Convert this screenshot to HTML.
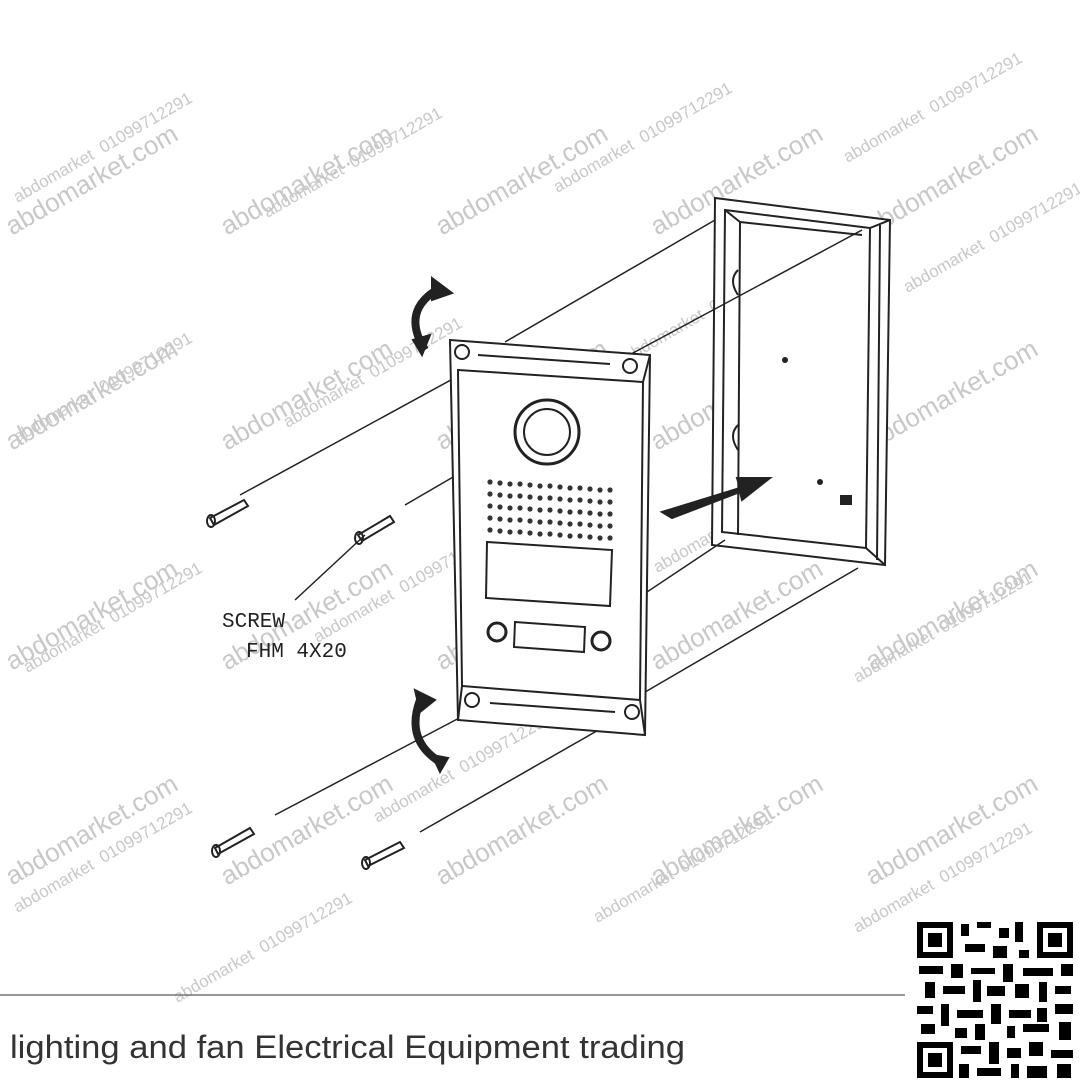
<!DOCTYPE html>
<html><head><meta charset="utf-8"><style>
html,body{margin:0;padding:0;background:#fff;}
body{width:1080px;height:1085px;position:relative;overflow:hidden;font-family:"Liberation Sans",sans-serif;}
.wm{position:absolute;color:#c8c8c8;font-size:26px;transform:rotate(-30deg);transform-origin:left top;white-space:nowrap;}
.wm2{position:absolute;color:#c8c8c8;font-size:17px;transform:rotate(-30deg);transform-origin:left top;white-space:nowrap;}
</style></head><body>
<div class="wm" style="left:215px;top:215px">abdomarket.com</div>
<div class="wm" style="left:430px;top:215px">abdomarket.com</div>
<div class="wm" style="left:645px;top:215px">abdomarket.com</div>
<div class="wm" style="left:860px;top:215px">abdomarket.com</div>
<div class="wm" style="left:0px;top:215px">abdomarket.com</div>
<div class="wm" style="left:215px;top:430px">abdomarket.com</div>
<div class="wm" style="left:430px;top:430px">abdomarket.com</div>
<div class="wm" style="left:645px;top:430px">abdomarket.com</div>
<div class="wm" style="left:860px;top:430px">abdomarket.com</div>
<div class="wm" style="left:0px;top:430px">abdomarket.com</div>
<div class="wm" style="left:0px;top:650px">abdomarket.com</div>
<div class="wm" style="left:215px;top:650px">abdomarket.com</div>
<div class="wm" style="left:430px;top:650px">abdomarket.com</div>
<div class="wm" style="left:645px;top:650px">abdomarket.com</div>
<div class="wm" style="left:860px;top:650px">abdomarket.com</div>
<div class="wm" style="left:0px;top:865px">abdomarket.com</div>
<div class="wm" style="left:215px;top:865px">abdomarket.com</div>
<div class="wm" style="left:430px;top:865px">abdomarket.com</div>
<div class="wm" style="left:645px;top:865px">abdomarket.com</div>
<div class="wm" style="left:860px;top:865px">abdomarket.com</div>
<div class="wm2" style="left:260px;top:205px">abdomarket&nbsp;&nbsp;01099712291</div>
<div class="wm2" style="left:550px;top:180px">abdomarket&nbsp;&nbsp;01099712291</div>
<div class="wm2" style="left:840px;top:150px">abdomarket&nbsp;&nbsp;01099712291</div>
<div class="wm2" style="left:10px;top:190px">abdomarket&nbsp;&nbsp;01099712291</div>
<div class="wm2" style="left:280px;top:415px">abdomarket&nbsp;&nbsp;01099712291</div>
<div class="wm2" style="left:620px;top:350px">abdomarket&nbsp;&nbsp;01099712291</div>
<div class="wm2" style="left:900px;top:280px">abdomarket&nbsp;&nbsp;01099712291</div>
<div class="wm2" style="left:10px;top:430px">abdomarket&nbsp;&nbsp;01099712291</div>
<div class="wm2" style="left:20px;top:660px">abdomarket&nbsp;&nbsp;01099712291</div>
<div class="wm2" style="left:310px;top:630px">abdomarket&nbsp;&nbsp;01099712291</div>
<div class="wm2" style="left:650px;top:560px">abdomarket&nbsp;&nbsp;01099712291</div>
<div class="wm2" style="left:850px;top:670px">abdomarket&nbsp;&nbsp;01099712291</div>
<div class="wm2" style="left:370px;top:810px">abdomarket&nbsp;&nbsp;01099712291</div>
<div class="wm2" style="left:590px;top:910px">abdomarket&nbsp;&nbsp;01099712291</div>
<div class="wm2" style="left:850px;top:920px">abdomarket&nbsp;&nbsp;01099712291</div>
<div class="wm2" style="left:10px;top:900px">abdomarket&nbsp;&nbsp;01099712291</div>
<div class="wm2" style="left:170px;top:990px">abdomarket&nbsp;&nbsp;01099712291</div>

<svg width="1080" height="1085" style="position:absolute;left:0;top:0" xmlns="http://www.w3.org/2000/svg">
<g stroke="#222" stroke-width="2" fill="none">
<polygon points="715,198 890,220 885,565 712,545" fill="#fff"/>
<polygon points="725,210 870,228 866,548 722,532"/>
<line x1="870" y1="228" x2="890" y2="220"/>
<line x1="866" y1="548" x2="885" y2="565"/>
<line x1="880" y1="225" x2="877" y2="560"/>
<line x1="725" y1="210" x2="740" y2="222"/><line x1="740" y1="222" x2="738" y2="535"/>
<line x1="740" y1="222" x2="862" y2="235"/>
<path d="M738,270 q-10,10 0,25"/><path d="M738,425 q-10,10 0,25"/>
<line x1="505" y1="342" x2="715" y2="220" stroke-width="1.5"/>
<line x1="620" y1="360" x2="862" y2="230" stroke-width="1.5"/>
<line x1="640" y1="695" x2="858" y2="568" stroke-width="1.5"/>
<line x1="500" y1="690" x2="725" y2="540" stroke-width="1.5"/>
<line x1="240" y1="495" x2="460" y2="375" stroke-width="1.5"/>
<line x1="405" y1="505" x2="620" y2="380" stroke-width="1.5"/>
<line x1="275" y1="815" x2="465" y2="715" stroke-width="1.5"/>
<line x1="420" y1="832" x2="630" y2="712" stroke-width="1.5"/>
<line x1="295" y1="600" x2="365" y2="535" stroke-width="1.5"/>
<polygon points="450,340 650,355 645,735 458,720" fill="#fff"/>
<polygon points="458,370 643,382 640,700 462,686"/>
<line x1="650" y1="355" x2="643" y2="382"/>
<line x1="645" y1="735" x2="640" y2="700"/>
<line x1="458" y1="720" x2="462" y2="686"/>
<circle cx="462" cy="352" r="7"/><circle cx="630" cy="366" r="7"/>
<circle cx="472" cy="700" r="7"/><circle cx="632" cy="712" r="7"/>
<line x1="478" y1="355" x2="610" y2="364"/>
<line x1="490" y1="703" x2="615" y2="712"/>
<circle cx="547" cy="432" r="32" stroke-width="3"/>
<circle cx="547" cy="432" r="23"/>
<polygon points="487,542 612,550 610,606 486,598"/>
<circle cx="497" cy="632" r="9" stroke-width="3"/>
<circle cx="601" cy="641" r="9" stroke-width="3"/>
<polygon points="515,622 585,627 584,652 514,647"/>
<polygon points="662,512 740,488 737,478 770,478 742,500 740,492 672,518" fill="#222"/>
<path d="M425,350 q-25,-40 15,-62" stroke-width="8"/>
<polygon points="432,278 452,293 432,300" fill="#222"/>
<polygon points="413,340 430,335 422,355" fill="#222"/>
<path d="M420,700 q-15,40 20,62" stroke-width="8"/>
<polygon points="415,690 435,700 420,712" fill="#222"/>
<polygon points="432,755 448,758 440,772" fill="#222"/>
<g stroke-width="2">
<polygon points="210,518 244,500 248,506 214,525"/><ellipse cx="211" cy="521" rx="4" ry="6"/>
<polygon points="358,535 390,516 394,522 362,541"/><ellipse cx="359" cy="538" rx="4" ry="6"/>
<polygon points="215,848 250,828 254,834 218,854"/><ellipse cx="216" cy="851" rx="4" ry="6"/>
<polygon points="365,860 400,842 404,848 368,866"/><ellipse cx="366" cy="863" rx="4" ry="6"/>
</g>
</g>
<g fill="#222">
<circle cx="785" cy="360" r="3"/><circle cx="820" cy="482" r="3"/><rect x="840" y="495" width="12" height="10"/>
</g>
<text x="222" y="627" font-family="Liberation Mono,monospace" font-size="21" fill="#222">SCREW</text>
<text x="246" y="657" font-family="Liberation Mono,monospace" font-size="21" fill="#222">FHM 4X20</text>
<g fill="#333">
<circle cx="490" cy="482" r="2.6"/><circle cx="500" cy="483" r="2.6"/><circle cx="510" cy="484" r="2.6"/><circle cx="520" cy="484" r="2.6"/><circle cx="530" cy="485" r="2.6"/><circle cx="540" cy="486" r="2.6"/><circle cx="550" cy="486" r="2.6"/><circle cx="560" cy="487" r="2.6"/><circle cx="570" cy="488" r="2.6"/><circle cx="580" cy="488" r="2.6"/><circle cx="590" cy="489" r="2.6"/><circle cx="600" cy="490" r="2.6"/><circle cx="610" cy="490" r="2.6"/>
<circle cx="490" cy="494" r="2.6"/><circle cx="500" cy="495" r="2.6"/><circle cx="510" cy="496" r="2.6"/><circle cx="520" cy="496" r="2.6"/><circle cx="530" cy="497" r="2.6"/><circle cx="540" cy="498" r="2.6"/><circle cx="550" cy="498" r="2.6"/><circle cx="560" cy="499" r="2.6"/><circle cx="570" cy="500" r="2.6"/><circle cx="580" cy="500" r="2.6"/><circle cx="590" cy="501" r="2.6"/><circle cx="600" cy="502" r="2.6"/><circle cx="610" cy="502" r="2.6"/>
<circle cx="490" cy="506" r="2.6"/><circle cx="500" cy="507" r="2.6"/><circle cx="510" cy="508" r="2.6"/><circle cx="520" cy="508" r="2.6"/><circle cx="530" cy="509" r="2.6"/><circle cx="540" cy="510" r="2.6"/><circle cx="550" cy="510" r="2.6"/><circle cx="560" cy="511" r="2.6"/><circle cx="570" cy="512" r="2.6"/><circle cx="580" cy="512" r="2.6"/><circle cx="590" cy="513" r="2.6"/><circle cx="600" cy="514" r="2.6"/><circle cx="610" cy="514" r="2.6"/>
<circle cx="490" cy="518" r="2.6"/><circle cx="500" cy="519" r="2.6"/><circle cx="510" cy="520" r="2.6"/><circle cx="520" cy="520" r="2.6"/><circle cx="530" cy="521" r="2.6"/><circle cx="540" cy="522" r="2.6"/><circle cx="550" cy="522" r="2.6"/><circle cx="560" cy="523" r="2.6"/><circle cx="570" cy="524" r="2.6"/><circle cx="580" cy="524" r="2.6"/><circle cx="590" cy="525" r="2.6"/><circle cx="600" cy="526" r="2.6"/><circle cx="610" cy="526" r="2.6"/>
<circle cx="490" cy="530" r="2.6"/><circle cx="500" cy="531" r="2.6"/><circle cx="510" cy="532" r="2.6"/><circle cx="520" cy="532" r="2.6"/><circle cx="530" cy="533" r="2.6"/><circle cx="540" cy="534" r="2.6"/><circle cx="550" cy="534" r="2.6"/><circle cx="560" cy="535" r="2.6"/><circle cx="570" cy="536" r="2.6"/><circle cx="580" cy="536" r="2.6"/><circle cx="590" cy="537" r="2.6"/><circle cx="600" cy="538" r="2.6"/><circle cx="610" cy="538" r="2.6"/>
</g>
<line x1="0" y1="995" x2="905" y2="995" stroke="#777" stroke-width="1.5"/>
<text x="10" y="1058" font-family="Liberation Sans,sans-serif" font-size="32" fill="#333" textLength="675" lengthAdjust="spacingAndGlyphs">lighting and fan Electrical Equipment trading</text>
<g transform="translate(915,920)">
<rect x="0" y="0" width="160" height="160" fill="#fff"/>
<g fill="#000">
<rect x="2" y="2" width="36" height="36"/><rect x="8" y="8" width="24" height="24" fill="#fff"/><rect x="13" y="13" width="14" height="14"/>
<rect x="122" y="2" width="36" height="36"/><rect x="128" y="8" width="24" height="24" fill="#fff"/><rect x="133" y="13" width="14" height="14"/>
<rect x="2" y="122" width="36" height="36"/><rect x="8" y="128" width="24" height="24" fill="#fff"/><rect x="13" y="133" width="14" height="14"/>
<rect x="46" y="4" width="8" height="12"/><rect x="62" y="2" width="14" height="6"/><rect x="84" y="8" width="10" height="10"/><rect x="100" y="2" width="8" height="20"/>
<rect x="50" y="24" width="20" height="8"/><rect x="78" y="26" width="14" height="12"/><rect x="104" y="30" width="10" height="8"/>
<rect x="4" y="46" width="24" height="8"/><rect x="36" y="44" width="12" height="14"/><rect x="56" y="48" width="24" height="6"/><rect x="88" y="44" width="10" height="18"/><rect x="108" y="48" width="30" height="8"/><rect x="146" y="44" width="12" height="12"/>
<rect x="10" y="62" width="10" height="16"/><rect x="28" y="66" width="22" height="8"/><rect x="58" y="60" width="8" height="22"/><rect x="72" y="66" width="18" height="10"/><rect x="100" y="64" width="14" height="14"/><rect x="124" y="62" width="8" height="20"/><rect x="140" y="66" width="16" height="8"/>
<rect x="2" y="86" width="16" height="8"/><rect x="26" y="84" width="8" height="22"/><rect x="42" y="90" width="26" height="8"/><rect x="76" y="84" width="10" height="20"/><rect x="94" y="90" width="22" height="8"/><rect x="122" y="88" width="10" height="14"/><rect x="140" y="84" width="18" height="10"/>
<rect x="6" y="104" width="14" height="10"/><rect x="40" y="108" width="12" height="10"/><rect x="60" y="104" width="10" height="16"/><rect x="92" y="106" width="8" height="12"/><rect x="108" y="104" width="26" height="8"/><rect x="144" y="102" width="12" height="18"/>
<rect x="46" y="126" width="20" height="8"/><rect x="74" y="122" width="10" height="22"/><rect x="92" y="128" width="14" height="10"/><rect x="114" y="122" width="14" height="14"/><rect x="136" y="130" width="22" height="8"/>
<rect x="44" y="144" width="10" height="14"/><rect x="62" y="148" width="24" height="8"/><rect x="96" y="144" width="8" height="14"/><rect x="112" y="146" width="20" height="12"/><rect x="142" y="144" width="14" height="14"/>
</g>
</g>
</svg>
</body></html>
